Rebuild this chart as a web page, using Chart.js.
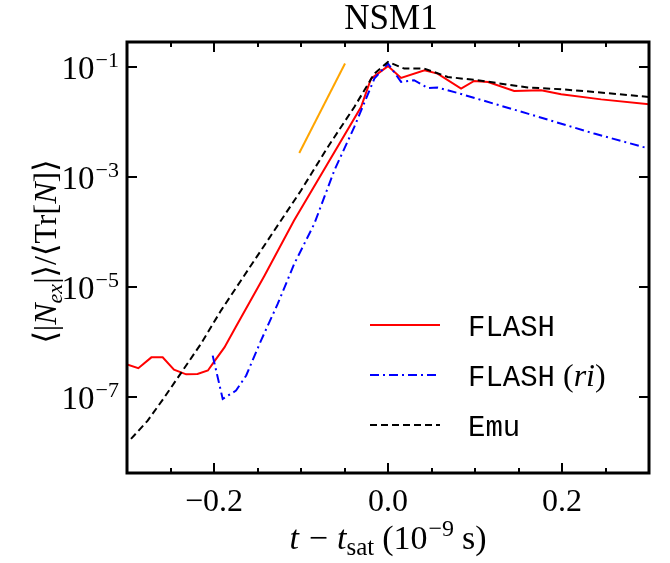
<!DOCTYPE html>
<html>
<head>
<meta charset="utf-8">
<script src="https://cdn.jsdelivr.net/npm/chart.js@4"></script>
<style>
  html, body { margin: 0; padding: 0; background: #fff; }
</style>
</head>
<body>
<canvas id="mychart" width="670" height="563"></canvas>
<script>
const ctx = document.getElementById("mychart").getContext("2d");

// values
const flashX = [-0.300, -0.287, -0.272, -0.259, -0.246, -0.232, -0.219, -0.207, -0.200, -0.188, -0.175, -0.142, -0.108, -0.031, -0.0195, 0.0, 0.015, 0.042, 0.057, 0.084, 0.099, 0.115, 0.145, 0.176, 0.199, 0.245, 0.300];
const flashY = [3.85e-7, 3.3e-7, 5.2e-7, 5.2e-7, 3.1e-7, 2.55e-7, 2.6e-7, 3.0e-7, 4.3e-7, 7.9e-7, 1.85e-6, 1.6e-5, 1.62e-4, 1.89e-2, 6.2e-2, 0.105, 0.0638, 0.088, 0.0767, 0.041, 0.0563, 0.054, 0.037, 0.038, 0.0323, 0.026, 0.0211];

const flashRiX = [-0.2015, -0.190, -0.1747, -0.163, -0.146, -0.1268, -0.1077, -0.0847, -0.0617, -0.0387, -0.0157, 0.0, 0.015, 0.030, 0.0456, 0.057, 0.080, 0.1606, 0.237, 0.300];
const flashRiY = [5.6e-7, 9.1e-8, 1.29e-7, 2.43e-7, 1.05e-6, 4.9e-6, 2.64e-5, 1.41e-4, 1.32e-3, 8.2e-3, 0.062, 0.117, 0.054, 0.058, 0.042, 0.0427, 0.034, 0.0143, 6.2e-3, 3.3e-3];

const emuX = [-0.2954, -0.2762, -0.2571, -0.236, -0.215, -0.192, -0.169, -0.146, -0.123, -0.100, -0.0693, -0.0387, -0.0157, 0.0, 0.0187, 0.0417, 0.0686, 0.103, 0.1606, 0.199, 0.237, 0.300];
const emuY = [1.7e-8, 3.66e-8, 9.7e-8, 2.99e-7, 9.2e-7, 3.7e-6, 1.31e-5, 4.6e-5, 1.62e-4, 5.7e-4, 3.5e-3, 1.89e-2, 7.67e-2, 0.125, 0.0947, 0.0947, 0.0665, 0.058, 0.0427, 0.0398, 0.0355, 0.0288];

const slopeX = [-0.102, -0.0494];
const slopeY = [2.74e-3, 0.117];

const xMajorTicks = [-0.2, 0.0, 0.2];
const xMinorTicks = [-0.25, -0.15, -0.1, -0.05, 0.05, 0.1, 0.15, 0.25];
const yTickExps = [-1, -3, -5, -7];

const legendNames = ["FLASH", "FLASH", "Emu"];

const serif = "'Liberation Serif', 'DejaVu Serif', serif";
const mono = "'Liberation Mono', 'DejaVu Sans Mono', monospace";

function pts(xs, ys) {
  return xs.map((x, i) => ({ x: x, y: ys[i] }));
}

// draws a row of text pieces, each with its own font, vertical shift and extra gap
function drawParts(c, parts, x, y, align) {
  let total = 0;
  parts.forEach((p) => {
    c.font = p.font;
    p.w = c.measureText(p.t).width + (p.gap || 0);
    total += p.w;
  });
  let cx = x;
  if (align === "center") cx = x - total / 2;
  if (align === "right") cx = x - total;
  c.textAlign = "left";
  c.textBaseline = "alphabetic";
  parts.forEach((p) => {
    c.font = p.font;
    c.fillText(p.t, cx, y + (p.dy || 0));
    cx += p.w;
  });
}

const frame = {
  id: "frame",
  afterDraw(chart) {
    const c = chart.ctx;
    const a = chart.chartArea;
    const xs = chart.scales.x;
    const ys = chart.scales.y;
    c.save();
    c.strokeStyle = "#000";
    c.fillStyle = "#000";

    // ticks, inward on all four sides
    c.lineWidth = 2;
    c.beginPath();
    xMajorTicks.forEach((v) => {
      const px = Math.round(xs.getPixelForValue(v));
      c.moveTo(px, a.bottom); c.lineTo(px, a.bottom - 10);
      c.moveTo(px, a.top); c.lineTo(px, a.top + 10);
    });
    xMinorTicks.forEach((v) => {
      const px = Math.round(xs.getPixelForValue(v));
      c.moveTo(px, a.bottom); c.lineTo(px, a.bottom - 5);
      c.moveTo(px, a.top); c.lineTo(px, a.top + 5);
    });
    yTickExps.forEach((e) => {
      const py = Math.round(ys.getPixelForValue(Math.pow(10, e)));
      c.moveTo(a.left, py); c.lineTo(a.left + 10, py);
      c.moveTo(a.right, py); c.lineTo(a.right - 10, py);
    });
    c.stroke();

    // frame
    c.lineWidth = 3;
    c.strokeRect(a.left, a.top, a.right - a.left, a.bottom - a.top);

    // x tick labels
    xMajorTicks.forEach((v) => {
      const px = xs.getPixelForValue(v);
      const txt = (v < 0 ? "\u2212" : "") + Math.abs(v).toFixed(1);
      drawParts(c, [{ t: txt, font: "32px " + serif }], px, a.bottom + 38, "center");
    });

    // y tick labels
    yTickExps.forEach((e) => {
      const py = ys.getPixelForValue(Math.pow(10, e));
      drawParts(c, [
        { t: "10", font: "33px " + serif, gap: 1 },
        { t: "\u2212" + Math.abs(e), font: "22px " + serif, dy: -12 }
      ], a.left - 8, py + 12, "right");
    });

    // title
    drawParts(c, [{ t: "NSM1", font: "35px " + serif }], (a.left + a.right) / 2 + 3, 29, "center");

    // x axis title
    drawParts(c, [
      { t: "t", font: "italic 34px " + serif, gap: 10 },
      { t: "\u2212", font: "34px " + serif, gap: 9 },
      { t: "t", font: "italic 34px " + serif },
      { t: "sat", font: "25px " + serif, dy: 6, gap: 8 },
      { t: "(10", font: "34px " + serif, gap: 1 },
      { t: "\u22129", font: "24px " + serif, dy: -13, gap: 8 },
      { t: "s)", font: "34px " + serif }
    ], (a.left + a.right) / 2, 549, "center");

    // y axis title
    c.save();
    c.translate(56, (a.top + a.bottom) / 2 - 6);
    c.rotate(-Math.PI / 2);
    drawParts(c, [
      { t: "\u27e8|", font: "32px " + serif },
      { t: "N", font: "italic 32px " + serif },
      { t: "ex", font: "italic 22px " + serif, dy: 6 },
      { t: "|\u27e9/\u27e8Tr[", font: "32px " + serif },
      { t: "N", font: "italic 32px " + serif },
      { t: "]\u27e9", font: "32px " + serif }
    ], 0, 0, "center");
    c.restore();

    // legend inside the plot
    const lx0 = a.right - 279, lx1 = a.right - 209, tx = a.right - 181;
    const rows = [325, 375, 425];
    chart.data.datasets.slice(0, 3).forEach((ds, i) => {
      c.save();
      c.strokeStyle = ds.borderColor;
      c.lineWidth = ds.borderWidth;
      c.setLineDash(ds.borderDash || []);
      c.beginPath();
      c.moveTo(lx0, rows[i]);
      c.lineTo(lx1, rows[i]);
      c.stroke();
      c.restore();
      const parts = [{ t: legendNames[i], font: "29px " + mono }];
      if (i === 1) {
        parts.push({ t: " (", font: "32px " + serif });
        parts.push({ t: "ri", font: "italic 32px " + serif });
        parts.push({ t: ")", font: "32px " + serif });
      }
      drawParts(c, parts, tx, rows[i] + 11, "left");
    });

    c.restore();
  }
};

const config = {
  type: "line",
  data: {
    datasets: [
      {
        label: "FLASH",
        data: pts(flashX, flashY),
        borderColor: "#ff0000",
        borderWidth: 2,
        order: 3
      },
      {
        label: "FLASH (ri)",
        data: pts(flashRiX, flashRiY),
        borderColor: "#0000ff",
        borderWidth: 2,
        borderDash: [9, 4, 2, 4],
        order: 2
      },
      {
        label: "Emu",
        data: pts(emuX, emuY),
        borderColor: "#000000",
        borderWidth: 2,
        borderDash: [7, 4],
        order: 1
      },
      {
        label: "slope",
        data: pts(slopeX, slopeY),
        borderColor: "#ffa500",
        borderWidth: 2,
        order: 4
      }
    ]
  },
  options: {
    responsive: false,
    animation: false,
    devicePixelRatio: 1,
    layout: { padding: { left: 127, right: 21, top: 42, bottom: 90 } },
    elements: {
      point: { radius: 0 },
      line: { tension: 0, fill: false }
    },
    plugins: {
      legend: { display: false },
      tooltip: { enabled: false },
      title: { display: false }
    },
    scales: {
      x: {
        type: "linear",
        min: -0.3,
        max: 0.3,
        display: false
      },
      y: {
        type: "logarithmic",
        min: Math.pow(10, -8.39),
        max: Math.pow(10, -0.54),
        display: false
      }
    }
  },
  plugins: [frame]
};

const myChart = new Chart(ctx, config);
</script>
</body>
</html>
